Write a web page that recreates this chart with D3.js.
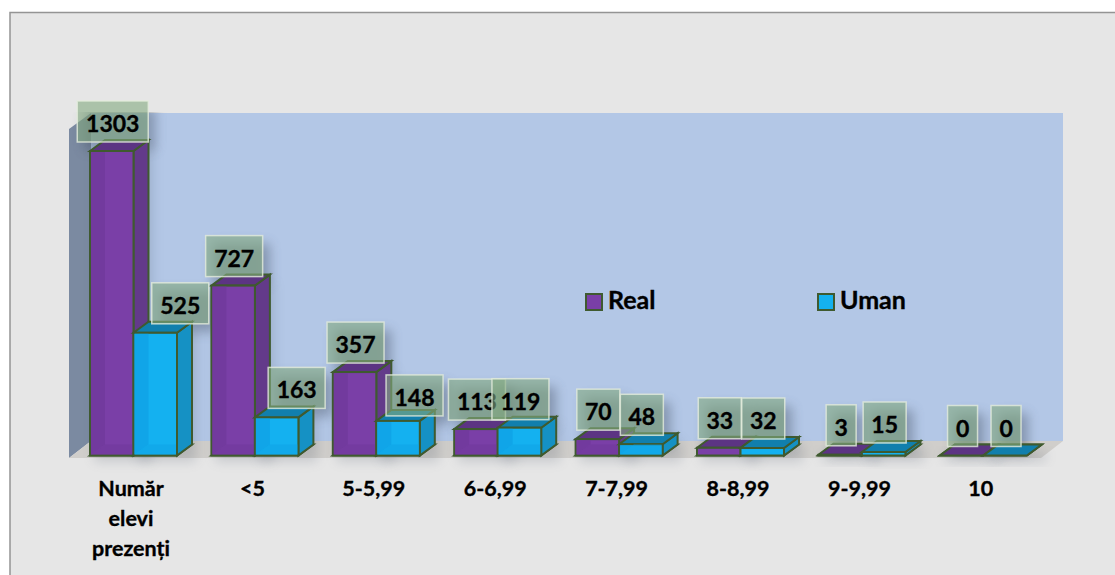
<!DOCTYPE html>
<html>
<head>
<meta charset="utf-8">
<title>Real / Uman</title>
<style>
  html, body { margin: 0; padding: 0; background: #fff; overflow: hidden; }
  text { font-family: Lato, "Open Sans", sans-serif; font-weight: 700; fill: #000; stroke: #000; stroke-width: 0.35px; }
</style>
</head>
<body>
<div id="chart"></div>
<script src="https://cdnjs.cloudflare.com/ajax/libs/d3/7.8.5/d3.min.js"></script>
<script>
var categories = [["Număr", "elevi", "prezenți"], ["<5"], ["5-5,99"], ["6-6,99"], ["7-7,99"], ["8-8,99"], ["9-9,99"], ["10"]];
var seriesNames = ["Real", "Uman"];
var realValues = [1303, 727, 357, 113, 70, 33, 3, 0];
var umanValues = [525, 163, 148, 119, 48, 32, 15, 0];

// the labels of the first Uman bars were pulled aside by hand in the original
var umanNudgeX = [24, 19, 15.5, 0, 0, 0, 0, 0];
var umanNudgeY = [0, 0, 4, 1, 0, 0, 0, 0];

var width = 1115, height = 575;
var depthX = 15, depthY = 11;
var edge = "#3f5a2f";

var colors = {
  Real: { front: "#7a3fa7", side: "#633a8a", top: "#5c3483", inner: "#70399b" },
  Uman: { front: "#14b1f0", side: "#1591c4", top: "#117fad", inner: "#0fa2e6" }
};

var svg = d3.select("#chart").append("svg")
  .attr("width", width)
  .attr("height", height)
  .style("display", "block");

var defs = svg.append("defs");
defs.append("filter").attr("id", "soft")
  .attr("x", "-50%").attr("y", "-50%").attr("width", "200%").attr("height", "200%")
  .append("feGaussianBlur").attr("stdDeviation", 6);
defs.append("clipPath").attr("id", "plotClip")
  .append("rect").attr("x", 69).attr("y", 112).attr("width", 994).attr("height", 362);

// page frame, open to the right and the bottom
svg.append("rect")
  .attr("x", 10).attr("y", 12)
  .attr("width", width).attr("height", height)
  .attr("fill", "#e6e6e6");
svg.append("path")
  .attr("d", "M10,575V12.5H1115")
  .attr("fill", "none")
  .attr("stroke", "#949494")
  .attr("stroke-width", 1.5);

var x0 = d3.scaleBand().domain(d3.range(categories.length)).range([90, 1061.2]);
var x1 = d3.scaleBand().domain(seriesNames).range([0, 87]);
var y = d3.scaleLinear().domain([0, 1303]).range([455.5, 151]);

var pts = function(a) { return a.map(function(p) { return p.join(","); }).join(" "); };

// walls
var wallTop = 113, wallBase = y(0) - 14.5, wallLeft = 91, wallRight = 1063;
var walls = svg.append("g");
walls.append("rect")
  .attr("x", wallLeft).attr("y", wallTop)
  .attr("width", wallRight - wallLeft).attr("height", wallBase - wallTop)
  .attr("fill", "#b3c7e6");
walls.append("polygon")
  .attr("points", pts([[69, 129], [wallLeft, wallTop], [wallLeft, wallBase], [69, 458]]))
  .attr("fill", "#7b8aa1");
walls.append("polygon")
  .attr("points", pts([[wallLeft, wallBase], [wallRight, wallBase], [1041, 458], [69, 458]]))
  .attr("fill", "#d0cecb");

var bars = [];
categories.forEach(function(c, i) {
  bars.push({ i: i, s: "Real", v: realValues[i] });
  bars.push({ i: i, s: "Uman", v: umanValues[i] });
});
bars.forEach(function(d) {
  d.x = x0(d.i) + x1(d.s);
  d.w = x1.bandwidth();
  d.top = y(d.v);
  d.base = y(0);
});

// data labels
var labels = [];
bars.forEach(function(d) {
  var nudgeX = d.s == "Uman" ? umanNudgeX[d.i] : 0;
  var nudgeY = d.s == "Uman" ? umanNudgeY[d.i] : 0;
  var digits = String(d.v).length;
  var w = [0, 30, 43, 57, 71][digits];
  labels.push({
    text: d.v,
    cx: d.x + d.w / 2 + 1 + nudgeX,
    bottom: d.top - 9 + nudgeY,
    w: w,
    h: 41
  });
});

// soft shadows sit on the walls, kept inside the plot
var shadows = svg.append("g").attr("clip-path", "url(#plotClip)");
shadows.selectAll(".barShadow")
  .data(bars)
  .enter()
  .append("rect")
  .attr("class", "barShadow")
  .attr("x", function(d) { return d.x + 4; })
  .attr("y", function(d) { return d.top - 4; })
  .attr("width", function(d) { return d.w + depthX; })
  .attr("height", function(d) { return d.base - d.top + 10; })
  .attr("fill", "#4a5566")
  .attr("opacity", 0.2)
  .attr("filter", "url(#soft)");

shadows.selectAll(".labelShadow")
  .data(labels)
  .enter()
  .append("rect")
  .attr("class", "labelShadow")
  .attr("x", function(d) { return d.cx - d.w / 2 + 7; })
  .attr("y", function(d) { return d.bottom - d.h + 8; })
  .attr("width", function(d) { return d.w; })
  .attr("height", function(d) { return d.h; })
  .attr("fill", "#3e4a5c")
  .attr("opacity", 0.4)
  .attr("filter", "url(#soft)");

var bar = svg.selectAll(".bar")
  .data(bars)
  .enter()
  .append("g")
  .attr("class", "bar");

bar.append("polygon")
  .attr("points", function(d) {
    return pts([[d.x, d.base], [d.x + depthX, d.base - depthY], [d.x + d.w + depthX, d.base - depthY], [d.x + d.w, d.base]]);
  })
  .attr("fill", function(d) { return colors[d.s].top; })
  .attr("stroke", edge).attr("stroke-width", 2);

// side, top and front faces
bar.append("polygon")
  .attr("points", function(d) {
    return pts([[d.x + d.w, d.top], [d.x + d.w + depthX, d.top - depthY], [d.x + d.w + depthX, d.base - depthY], [d.x + d.w, d.base]]);
  })
  .attr("fill", function(d) { return colors[d.s].side; })
  .attr("stroke", edge).attr("stroke-width", 2);

bar.append("polygon")
  .attr("points", function(d) {
    return pts([[d.x, d.top], [d.x + depthX, d.top - depthY], [d.x + d.w + depthX, d.top - depthY], [d.x + d.w, d.top]]);
  })
  .attr("fill", function(d) { return colors[d.s].top; })
  .attr("stroke", edge).attr("stroke-width", 2);

bar.append("rect")
  .attr("x", function(d) { return d.x; })
  .attr("y", function(d) { return d.top; })
  .attr("width", function(d) { return d.w; })
  .attr("height", function(d) { return d.base - d.top; })
  .attr("fill", function(d) { return colors[d.s].front; })
  .attr("stroke", edge).attr("stroke-width", 2);

// hidden left and floor faces showing through the front
bar.filter(function(d) { return d.base - d.top > depthY; })
  .append("polygon")
  .attr("points", function(d) {
    return pts([[d.x + 1, d.top + 1], [d.x + depthX, d.top + 1], [d.x + depthX, d.base - depthY], [d.x + 1, d.base - 1]]);
  })
  .attr("fill", function(d) { return colors[d.s].inner; })
  .attr("opacity", 0.75);

bar.filter(function(d) { return d.base - d.top > depthY; })
  .append("polygon")
  .attr("points", function(d) {
    return pts([[d.x + 1, d.base - 1], [d.x + depthX, d.base - depthY], [d.x + d.w - 1, d.base - depthY], [d.x + d.w - 1, d.base - 1]]);
  })
  .attr("fill", function(d) { return colors[d.s].inner; })
  .attr("opacity", 0.55);

var label = svg.selectAll(".label")
  .data(labels)
  .enter()
  .append("g")
  .attr("class", "label");

label.append("rect")
  .attr("x", function(d) { return d.cx - d.w / 2; })
  .attr("y", function(d) { return d.bottom - d.h; })
  .attr("width", function(d) { return d.w; })
  .attr("height", function(d) { return d.h; })
  .attr("fill", "rgb(132,170,128)")
  .attr("fill-opacity", 0.6)
  .attr("stroke", "#e4ecdc")
  .attr("stroke-opacity", 0.8)
  .attr("stroke-width", 1.5);

label.append("text")
  .attr("x", function(d) { return d.cx; })
  .attr("y", function(d) { return d.bottom - 10; })
  .attr("text-anchor", "middle")
  .style("font-size", "23px")
  .text(function(d) { return d.text; });

// category labels
var catLabel = svg.selectAll(".cat")
  .data(categories)
  .enter()
  .append("text")
  .attr("class", "cat")
  .attr("text-anchor", "middle")
  .style("font-size", "21.5px");

catLabel.selectAll("tspan")
  .data(function(d, i) { return d.map(function(t) { return { t: t, i: i }; }); })
  .enter()
  .append("tspan")
  .attr("x", function(d) { return x0(d.i) + 41; })
  .attr("y", function(d, j) { return 496 + j * 30; })
  .text(function(d) { return d.t; });

// legend
var legendX = d3.scaleOrdinal().domain(seriesNames).range([585, 817]);
var legend = svg.selectAll(".legend")
  .data(seriesNames)
  .enter()
  .append("g")
  .attr("class", "legend");

legend.append("rect")
  .attr("x", function(d) { return legendX(d) + 1; })
  .attr("y", 294)
  .attr("width", 16)
  .attr("height", 16)
  .attr("fill", function(d) { return colors[d].front; })
  .attr("stroke", edge)
  .attr("stroke-width", 2);

legend.append("text")
  .attr("x", function(d) { return legendX(d) + 23; })
  .attr("y", 309)
  .style("font-size", "25px")
  .text(function(d) { return d; });
</script>
</body>
</html>
